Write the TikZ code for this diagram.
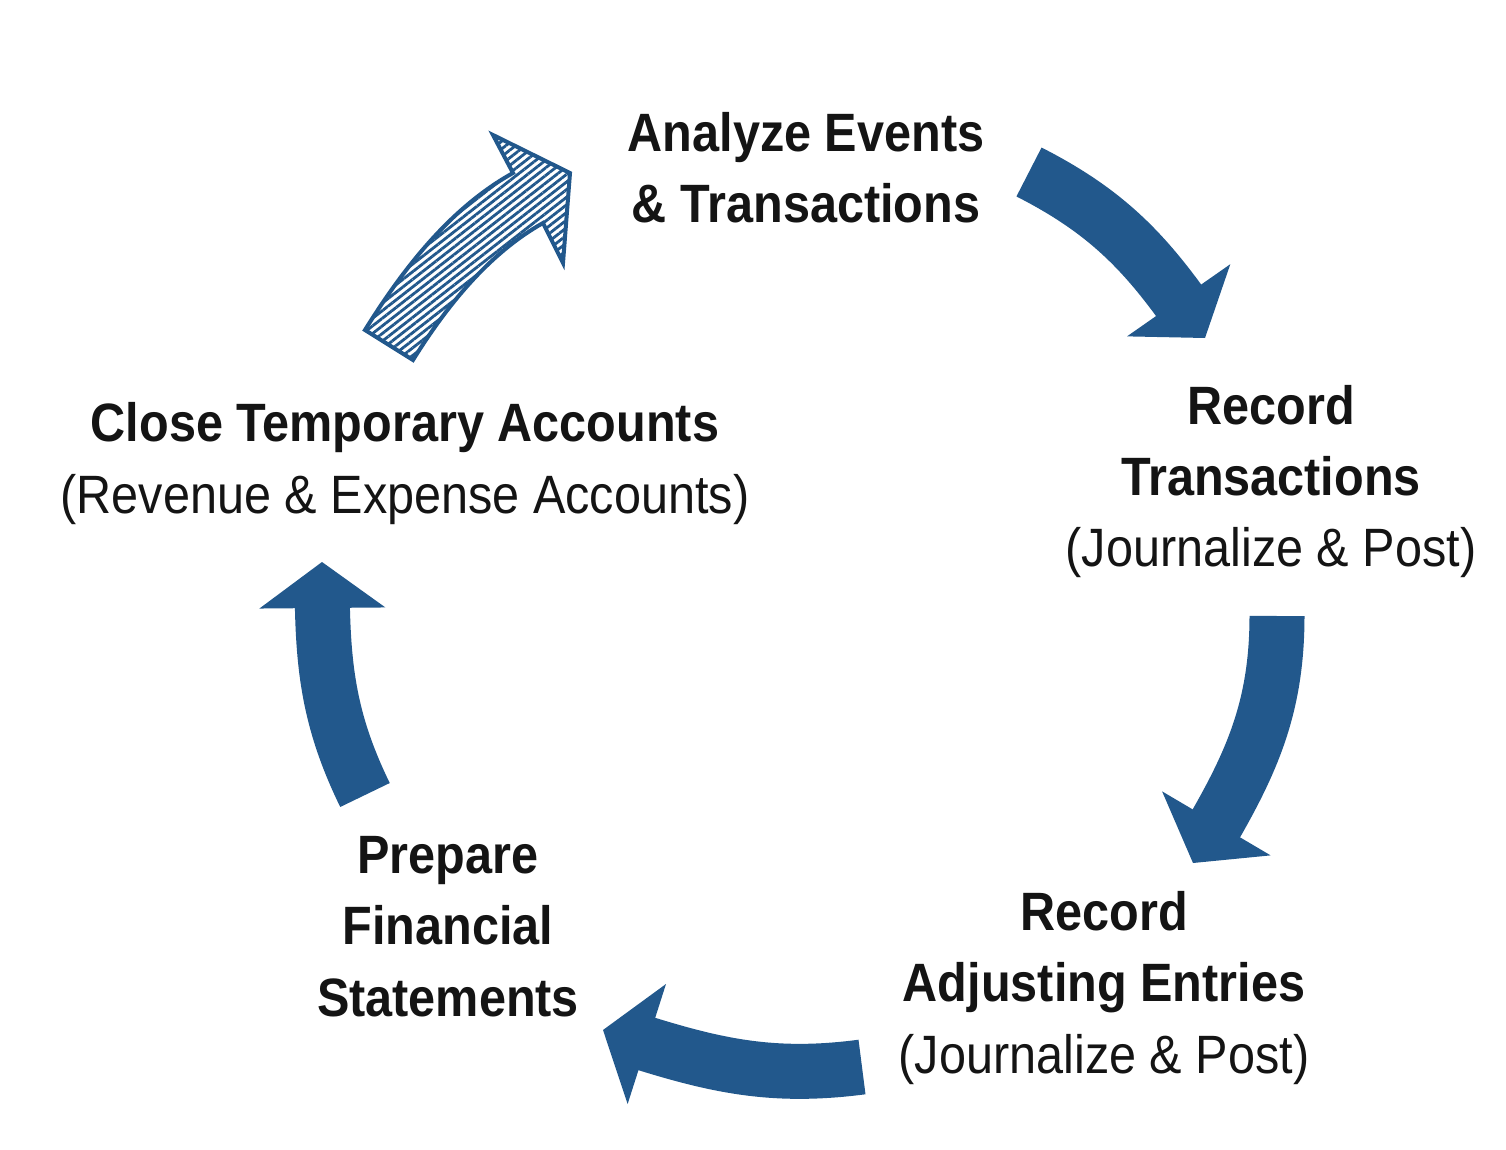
\documentclass[tikz,border=0pt]{standalone}
\usepackage{fontspec}
\setmainfont{Liberation Sans}[FakeStretch=0.9]
\usetikzlibrary{arrows.meta,bending,patterns.meta}
\definecolor{cycblue}{RGB}{34,88,140}
\definecolor{txt}{RGB}{20,20,20}
\begin{document}
\begin{tikzpicture}[x=0.5pt,y=0.5pt,
  lbl/.style={align=center,anchor=base,text=txt,font=\fontsize{27}{35.7}\selectfont,inner sep=0pt},
  blk/.style={draw=cycblue,line width=27.5pt,-{Triangle[width=63pt,length=23pt,line width=0pt,flex]}},
  hatch/.style={draw=cycblue,line width=2pt,line join=miter,pattern={Lines[angle=38,distance=3pt,line width=1.4pt]},pattern color=cycblue}
]
\fill[white] (0,0) rectangle (1506,-1150);
\useasboundingbox (0,0) rectangle (1506,-1150);

% labels (anchor = baseline of the last line)
\node[lbl] (analyze) at (806,-223) {\textbf{Analyze Events}\\\textbf{\& Transactions}};
\node[lbl] (record) at (1271,-567) {\textbf{Record}\\\textbf{Transactions}\\(Journalize \& Post)};
\node[lbl] (adjust) at (1104,-1073) {\textbf{Record}\\\textbf{Adjusting Entries}\\(Journalize \& Post)};
\node[lbl] (prepare) at (448,-1016) {\textbf{Prepare}\\\textbf{Financial}\\\textbf{Statements}};
\node[lbl] (close) at (405,-513) {\textbf{Close Temporary Accounts}\\(Revenue \& Expense Accounts)};

% arrow end points
\coordinate (a1s) at (1029,-172); \coordinate (a1e) at (1205,-338);
\coordinate (a2s) at (1277,-616); \coordinate (a2e) at (1193,-863);
\coordinate (a3s) at (862,-1067); \coordinate (a3e) at (603,-1030);
\coordinate (a4s) at (365,-795);  \coordinate (a4e) at (322,-562);

\draw[blk] (a1s) to[out=-27,in=124] (a1e);
\draw[blk] (a2s) to[out=-90,in=59] (a2e);
\draw[blk] (a3s) to[out=187.5,in=-18] (a3e);
\draw[blk] (a4s) to[out=116,in=-90] (a4e);

% hatched arrow (close -> analyze)
\draw[hatch] (365,-330) .. controls (403,-269) and (450,-208) .. (513,-173)
  -- (493,-135) -- (570,-173) -- (563,-263) -- (543,-223)
  .. controls (488,-254) and (446,-307) .. (413,-360) -- cycle;
\end{tikzpicture}
\end{document}
